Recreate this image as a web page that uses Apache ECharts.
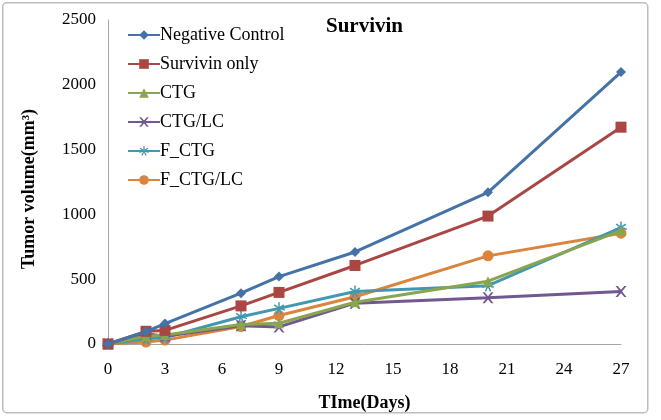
<!DOCTYPE html>
<html>
<head>
<meta charset="utf-8">
<script src="https://cdn.jsdelivr.net/npm/echarts@6/dist/echarts.min.js"></script>
<style>html,body{margin:0;padding:0;background:#fff}#c{width:661px;height:420px}</style>
</head>
<body>
<div id="c"></div>
<script>
const days = [0, 2, 3, 7, 9, 13, 20, 27];
const seriesNames = ['Negative Control', 'Survivin only', 'CTG', 'CTG/LC', 'F_CTG', 'F_CTG/LC'];
const negativeControl = [0, 95, 158, 392, 520, 710, 1170, 2098];
const survivinOnly = [0, 98, 105, 294, 398, 606, 987, 1673];
const ctg = [0, 60, 70, 150, 160, 322, 485, 875];
const ctgLc = [0, 80, 60, 140, 132, 315, 356, 405];
const fCtg = [0, 40, 50, 210, 275, 405, 450, 898];
const fCtgLc = [0, 15, 30, 135, 220, 365, 680, 855];
const yTicks = [0, 500, 1000, 1500, 2000, 2500];
const xTicks = [0, 3, 6, 9, 12, 15, 18, 21, 24, 27];

const values = [negativeControl, survivinOnly, ctg, ctgLc, fCtg, fCtgLc];
const colors = ['#4572A7', '#AA4643', '#89A54E', '#71588F', '#4198AF', '#DB843D'];
const xPath = 'path://M0,0L2,0L5,3.5L8,0L10,0L6,5L10,10L8,10L5,6.5L2,10L0,10L4,5Z';
const starPath = 'path://M4.4,0H5.6V3.6L8.5,1.5L9.2,2.5L6.3,4.6L9.8,5.5L9.5,6.7L6,5.6L7.6,9.1L6.5,9.6L5,6.3L3.5,9.6L2.4,9.1L4,5.6L0.5,6.7L0.2,5.5L3.7,4.6L0.8,2.5L1.5,1.5L4.4,3.6Z';
const symbols = ['diamond', 'rect', 'triangle', xPath, starPath, 'circle'];
const sizes = [10, 11, 10, 11, 12, 11];
const font = 'Liberation Serif';

const chart = echarts.init(document.getElementById('c'));
chart.setOption({
  animation: false,
  textStyle: { fontFamily: font },
  graphic: [{
    type: 'rect', left: 2, top: 2, z: -1,
    shape: { width: 645, height: 410, r: 4 },
    style: { fill: '#fff', stroke: '#BDBDBD', lineWidth: 1.5 }
  }],
  title: {
    text: 'Survivin', left: 321, top: 11,
    textStyle: { fontFamily: font, fontWeight: 'bold', fontSize: 21, color: '#000' }
  },
  legend: {
    orient: 'vertical', left: 122, top: 21, itemGap: 11,
    itemWidth: 32, itemHeight: 12,
    textStyle: { fontFamily: font, fontSize: 18, color: '#000', padding: [0, 0, 0, -5] },
    data: seriesNames
  },
  grid: { left: 108, right: 40, top: 20, bottom: 76, containLabel: false },
  xAxis: {
    type: 'value', min: 0, max: 27, interval: 3,
    name: 'TIme(Days)', nameLocation: 'middle', nameGap: 50,
    nameTextStyle: { fontFamily: font, fontWeight: 'bold', fontSize: 18, color: '#000' },
    axisLine: { lineStyle: { color: '#A6A6A6', width: 1 } },
    axisTick: { show: false },
    splitLine: { show: false },
    axisLabel: { fontFamily: font, fontSize: 17, color: '#000', margin: 17,
      formatter: v => xTicks.includes(v) ? String(v) : '' }
  },
  yAxis: {
    type: 'value', min: 0, max: 2500, interval: 500,
    name: 'Tumor volume(mm³)', nameLocation: 'middle', nameGap: 70, nameRotate: 90,
    nameTextStyle: { fontFamily: font, fontWeight: 'bold', fontSize: 18, color: '#000', padding: [0, 14, 0, 0] },
    axisLine: { show: true, lineStyle: { color: '#A6A6A6', width: 1 } },
    axisTick: { show: false },
    splitLine: { show: false },
    axisLabel: { fontFamily: font, fontSize: 17, color: '#000', margin: 12,
      formatter: v => yTicks.includes(v) ? String(v) : '' }
  },
  series: seriesNames.map((n, i) => ({
    name: n, type: 'line',
    data: days.map((d, j) => [d, values[i][j]]),
    symbol: symbols[i], symbolSize: sizes[i], showAllSymbol: true,
    lineStyle: { color: colors[i], width: 3 },
    itemStyle: { color: colors[i] },
    z: 10 - i
  }))
});
</script>
</body>
</html>
